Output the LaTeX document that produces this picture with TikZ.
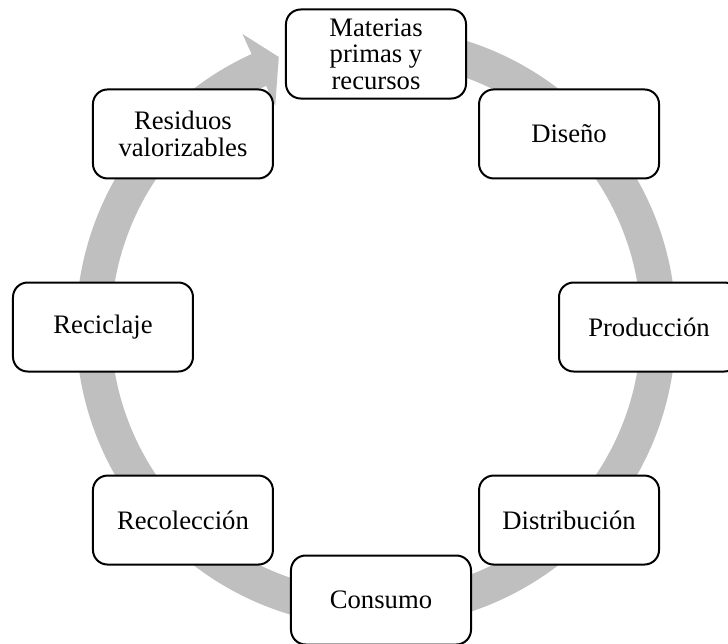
\documentclass[tikz,border=0pt]{standalone}
\usepackage{fontspec}
\setmainfont{Liberation Serif}
\usepackage{tikz}
\usetikzlibrary{positioning}
\definecolor{ringgray}{RGB}{191,191,191}

\begin{document}
\begin{tikzpicture}[x=0.75pt,y=0.75pt,
    box/.style={draw,line width=1.5pt,rounded corners=11pt,fill=white,
                minimum width=135pt,minimum height=66.75pt,inner sep=0pt,
                align=center,font=\fontsize{20}{20}\selectfont},
    ring/.style={fill=ringgray,draw=none}]
    \useasboundingbox (-376,-316) rectangle (352,327);
    \fill[ring] (85:300) arc[start angle=85,end angle=-245.5,radius=300]
        -- (-245.5:322) -- (-250.2:287) -- (-245.5:243) -- (-245.5:265)
        arc[start angle=-245.5,end angle=85,radius=265] -- cycle;
    \node[box] (mat) at (90:273) {Materias\\primas y\\recursos};
    \node[box] (dis) at (45:273) {Diseño};
    \node[box] (pro) at (0:273) {Producción};
    \node[box] (dst) at (-45:273) {Distribución};
    \node[box] (con) at (5,-273) {Consumo};
    \node[box] (rec) at (-135:273) {Recolección};
    \node[box] (cic) at (180:273) {Reciclaje};
    \node[box] (res) at (135:273) {Residuos\\valorizables};
\end{tikzpicture}
\end{document}
